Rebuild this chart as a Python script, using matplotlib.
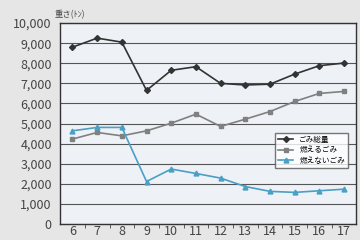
import matplotlib.pyplot as plt
from matplotlib.ticker import FuncFormatter, MultipleLocator

plt.rcParams['font.family'] = ['Noto Sans CJK JP', 'DejaVu Sans']

# 年度 (平成)
years = [6, 7, 8, 9, 10, 11, 12, 13, 14, 15, 16, 17]
total = [8800, 9250, 9050, 6650, 7650, 7830, 7000, 6920, 6960, 7460, 7880, 8010]
burnable = [4230, 4560, 4390, 4640, 5020, 5470, 4860, 5220, 5600, 6100, 6500, 6600]
unburnable = [4640, 4810, 4810, 2120, 2740, 2520, 2290, 1870, 1630, 1580, 1660, 1740]
labels = ["ごみ総量", "燃えるごみ", "燃えないごみ"]

fig = plt.figure(figsize=(3.6, 2.4), dpi=100)
fig.patch.set_facecolor("#e6e6e6")
ax = fig.add_axes([0.167, 0.066, 0.823, 0.838])
ax.set_facecolor("#eef2f7")

ax.plot(years, total, color="#333333", marker="D", markersize=3, lw=1.2, label=labels[0])
ax.plot(years, burnable, color="#808080", marker="s", markersize=3.5, lw=1.2, label=labels[1])
ax.plot(years, unburnable, color="#4a9fc4", marker="^", markersize=3.5, lw=1.2, label=labels[2])

ax.set_xlim(5.5, 17.5)
ax.set_ylim(0, 10000)
ax.yaxis.set_major_locator(MultipleLocator(1000))
ax.yaxis.set_major_formatter(FuncFormatter(lambda v, p: f"{int(v):,}"))
ax.set_xticks(years)
ax.set_xticks([y + 0.5 for y in years[:-1]], minor=True)
ax.tick_params(axis="x", which="major", length=0, pad=0.5, labelsize=9, colors="#444444")
ax.tick_params(axis="x", which="minor", length=3, direction="out", color="#444444")
ax.tick_params(axis="y", length=0, pad=6, labelsize=9, colors="#444444")
ax.grid(axis="y", color="#555555", lw=0.8)
ax.set_axisbelow(True)
for s in ax.spines.values():
    s.set_color("#333333")
    s.set_linewidth(1.0)

ax.text(-0.02, 1.02, "重さ(ﾄﾝ)", transform=ax.transAxes, fontsize=6, color="#444444",
        ha="left", va="bottom")

leg = ax.legend(loc="lower right", bbox_to_anchor=(0.985, 0.26), fontsize=5.5,
                frameon=True, fancybox=False, edgecolor="#555555", handlelength=2,
                borderpad=0.4, labelspacing=0.35)
leg.get_frame().set_facecolor("white")

fig.savefig("out.png", dpi=100, facecolor=fig.get_facecolor())
